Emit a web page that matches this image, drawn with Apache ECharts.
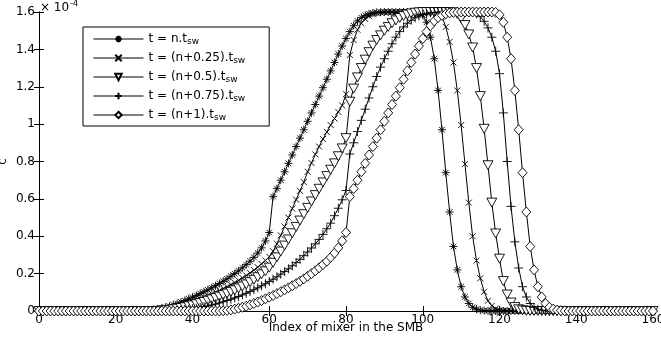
<!DOCTYPE html>
<html><head><meta charset="utf-8">
<script src="https://cdn.jsdelivr.net/npm/echarts@6/dist/echarts.min.js"></script>
<style>html,body{margin:0;padding:0;background:#fff}#c{width:661px;height:337px}</style>
</head><body><div id="c"></div>
<script>
var seriesNames = ['t = n.t', 't = (n+0.25).t', 't = (n+0.5).t', 't = (n+0.75).t', 't = (n+1).t'];
var xTicks = [0, 20, 40, 60, 80, 100, 120, 140, 160];
var yTicks = [0, 0.2, 0.4, 0.6, 0.8, 1, 1.2, 1.4, 1.6];

var s1 = [0,0,0,0,0,0,0,0,0,0,0,0,0,0,0,0,0,0,0,0,0,0,0,0,0,0,0,0,
0.001,0.003,0.006,0.010,0.015,0.020,0.026,0.033,0.040,0.048,0.056,0.065,0.074,0.083,0.093,0.103,0.113,0.124,0.135,0.147,0.159,0.172,0.186,0.200,0.215,0.231,0.248,0.266,0.287,0.310,0.338,0.375,0.420,
0.612,0.655,0.700,0.745,0.790,0.835,0.880,0.925,0.970,1.015,1.060,1.105,1.150,1.195,1.240,1.285,1.330,1.375,1.418,1.458,1.495,1.527,1.552,1.570,1.582,1.590,1.595,1.598,1.599,
1.6,1.6,1.6,1.6,1.6,1.6,1.6,1.6,1.6,
1.598,1.585,1.545,1.465,1.350,1.180,0.970,0.740,0.530,0.345,0.220,0.130,0.075,0.040,0.020,0.010,0.005,0.002,0.001,
0,0,0,0,0,0,0,0,0,0,0,0,0,0,0,0,0,0,0,0,0,0,0,0,0,0,0,0,0,0,0,0,0,0,0,0,0,0,0,0,0,0,0];

var s2 = [0,0,0,0,0,0,0,0,0,0,0,0,0,0,0,0,0,0,0,0,0,0,0,0,0,0,0,0,0,
0.001,0.003,0.005,0.008,0.012,0.016,0.021,0.026,0.032,0.038,0.045,0.052,0.059,0.067,0.075,0.083,0.092,0.101,0.110,0.120,0.130,0.141,0.152,0.164,0.177,0.190,0.204,0.219,0.235,0.252,0.270,0.290,
0.320,0.360,0.405,0.452,0.500,0.548,0.596,0.643,0.690,0.745,0.792,0.838,0.880,0.920,0.958,0.995,1.030,1.065,1.100,1.160,
1.37,1.45,1.505,1.54,1.563,1.578,1.588,1.594,1.597,1.599,
1.6,1.6,1.6,1.6,1.6,1.6,1.6,1.6,1.6,1.6,1.6,1.6,1.6,
1.595,1.575,1.52,1.44,1.33,1.18,0.995,0.786,0.58,0.40,0.27,0.175,0.103,0.055,0.028,0.013,0.005,0.002,0.001,
0,0,0,0,0,0,0,0,0,0,0,0,0,0,0,0,0,0,0,0,0,0,0,0,0,0,0,0,0,0,0,0,0,0,0,0,0,0];

var s3 = [0,0,0,0,0,0,0,0,0,0,0,0,0,0,0,0,0,0,0,0,0,0,0,0,0,0,0,0,0,0,0,
0.001,0.002,0.004,0.006,0.009,0.012,0.016,0.020,0.025,0.030,0.036,0.042,0.048,0.055,0.062,0.069,0.077,0.085,0.093,0.102,0.111,0.121,0.131,0.142,0.154,0.167,0.181,0.196,0.212,0.232,
0.258,0.287,0.318,0.350,0.383,0.416,0.450,0.484,0.518,0.552,0.586,0.620,0.654,0.688,0.722,0.756,0.790,0.828,0.870,0.925,
1.12,1.19,1.25,1.30,1.345,1.385,1.42,1.45,1.475,1.50,1.52,1.54,1.555,1.568,1.578,1.586,1.592,1.596,1.598,
1.6,1.6,1.6,1.6,1.6,1.6,1.6,1.6,
1.598,1.59,1.565,1.53,1.48,1.41,1.30,1.15,0.975,0.78,0.58,0.415,0.28,0.16,0.088,0.045,0.021,0.009,0.004,0.001,
0,0,0,0,0,0,0,0,0,0,0,0,0,0,0,0,0,0,0,0,0,0,0,0,0,0,0,0,0,0,0,0,0];

var s4 = [0,0,0,0,0,0,0,0,0,0,0,0,0,0,0,0,0,0,0,0,0,0,0,0,0,0,0,0,0,0,0,0,0,0,
0.001,0.002,0.003,0.005,0.007,0.009,0.012,0.015,0.019,0.023,0.027,0.032,0.037,0.043,0.049,0.056,0.063,0.070,0.078,0.086,0.095,0.104,0.114,0.124,0.135,0.146,0.158,0.170,0.183,0.197,0.211,0.226,0.242,0.259,0.277,0.296,0.316,0.337,0.359,0.383,0.410,0.440,0.470,0.510,0.550,0.595,0.645,
0.84,0.90,0.96,1.02,1.08,1.14,1.20,1.255,1.305,1.35,1.39,1.43,1.465,1.495,1.52,1.54,1.556,1.569,1.579,1.587,1.592,1.596,1.598,1.599,
1.6,1.6,1.6,1.6,1.6,1.6,1.6,1.6,
1.597,1.59,1.575,1.55,1.515,1.465,1.39,1.27,1.06,0.80,0.56,0.37,0.23,0.13,0.075,0.04,0.02,0.01,0.004,0.001,
0,0,0,0,0,0,0,0,0,0,0,0,0,0,0,0,0,0,0,0,0,0,0,0,0,0,0,0];

var s5 = [0,0,0,0,0,0,0,0,0,0,0,0,0,0,0,0,0,0,0,0,0,0,0,0,0,0,0,0,0,0,0,0,0,0,0,0,0,0,0,0,0,0,0,0,0,0,0,0,
0.001,0.003,0.006,0.010,0.015,0.020,0.026,0.033,0.040,0.048,0.056,0.065,0.074,0.083,0.093,0.103,0.113,0.124,0.135,0.147,0.159,0.172,0.186,0.200,0.215,0.231,0.248,0.266,0.287,0.310,0.338,0.375,0.420,
0.612,0.655,0.700,0.745,0.790,0.835,0.880,0.925,0.970,1.015,1.060,1.105,1.150,1.195,1.240,1.285,1.330,1.375,1.418,1.458,1.495,1.527,1.552,1.570,1.582,1.590,1.595,1.598,1.599,
1.6,1.6,1.6,1.6,1.6,1.6,1.6,1.6,1.6,
1.598,1.585,1.545,1.465,1.350,1.180,0.970,0.740,0.530,0.345,0.220,0.130,0.075,0.040,0.020,0.010,0.005,0.002,0.001,
0,0,0,0,0,0,0,0,0,0,0,0,0,0,0,0,0,0,0,0,0,0,0];

var allSeries = [s1, s2, s3, s4, s5];
var symbols = [
  'path://M5,0 L5,10 M0,5 L10,5 M1.5,1.5 L8.5,8.5 M8.5,1.5 L1.5,8.5',
  'path://M0,0 L10,10 M10,0 L0,10',
  'path://M0,0 L10,0 L5,9 Z',
  'path://M5,0 L5,10 M0,5 L10,5',
  'diamond'
];
var symSizes = [8, 6, [10, 9], 9, [9, 10]];
var fills = ['none', 'none', '#fff', 'none', '#fff'];

var chart = echarts.init(document.getElementById('c'), null, {renderer: 'canvas'});
var FONT = 'DejaVu Sans';
var series = allSeries.map(function (arr, k) {
  return {
    name: seriesNames[k],
    type: 'line',
    data: arr.map(function (v, i) { return [i, v]; }),
    symbol: symbols[k],
    symbolSize: symSizes[k],
    showAllSymbol: true,
    lineStyle: {color: '#000', width: 1},
    itemStyle: {color: fills[k], borderColor: '#000', borderWidth: 0.9},
    emphasis: {disabled: true},
    animation: false,
    z: 2 + k
  };
});

var axisCommon = {
  axisLine: {show: true, lineStyle: {color: '#000', width: 1}},
  axisTick: {show: true, inside: true, length: 5, lineStyle: {color: '#000', width: 1}},
  splitLine: {show: false}
};

chart.setOption({
  animation: false,
  backgroundColor: '#fff',
  textStyle: {fontFamily: FONT},
  grid: {left: 39, right: 8, top: 12, bottom: 26, show: false, containLabel: false, outerBoundsMode: 'none'},
  legend: {
    orient: 'vertical',
    left: 83, top: 27,
    data: seriesNames,
    itemWidth: 50, itemHeight: 8, itemGap: 5,
    padding: [5, 24, 4, 10],
    borderColor: '#000', borderWidth: 1,
    backgroundColor: '#fff',
    selectedMode: false,
    lineStyle: {width: 1, color: '#000'},
    formatter: function (n) { return '{m|' + n + '}{s|sw}'; },
    textStyle: {
      color: '#000', fontFamily: FONT, fontSize: 12,
      rich: {
        m: {fontSize: 12, fontFamily: FONT, color: '#000', lineHeight: 14},
        s: {fontSize: 9, fontFamily: FONT, color: '#000', lineHeight: 9, padding: [5, 0, 0, 0]}
      }
    }
  },
  xAxis: [
    Object.assign({
      type: 'value', min: 0, max: 160, interval: 20, position: 'bottom',
      name: 'Index of mixer in the SMB', nameLocation: 'middle', nameGap: 11,
      nameMoveOverlap: false,
      nameTextStyle: {color: '#000', fontSize: 12, fontFamily: FONT},
      axisLabel: {color: '#000', fontSize: 12, fontFamily: FONT, margin: 3}
    }, axisCommon),
    Object.assign({
      type: 'value', min: 0, max: 160, interval: 20, position: 'top',
      axisLabel: {show: false}
    }, axisCommon)
  ],
  yAxis: [
    Object.assign({
      type: 'value', min: 0, max: 1.6, interval: 0.2, position: 'left',
      name: 'c', nameLocation: 'middle', nameGap: 30, nameRotate: 90,
      nameMoveOverlap: false,
      nameTextStyle: {color: '#000', fontSize: 12, fontFamily: FONT},
      axisLabel: {color: '#000', fontSize: 12, fontFamily: FONT, margin: 4,
        formatter: function (v) { return String(Math.round(v * 10) / 10); }}
    }, axisCommon),
    Object.assign({
      type: 'value', min: 0, max: 1.6, interval: 0.2, position: 'right',
      axisLabel: {show: false}
    }, axisCommon)
  ],
  graphic: [{
    type: 'text', left: 40, top: 0,
    style: {
      text: '{a|× 10}{b|-4}',
      rich: {
        a: {fontSize: 12, fontFamily: FONT, fill: '#000', lineHeight: 12},
        b: {fontSize: 8, fontFamily: FONT, fill: '#000', padding: [0, 0, 8, 1]}
      }
    }
  }],
  series: series
});
</script></body></html>
